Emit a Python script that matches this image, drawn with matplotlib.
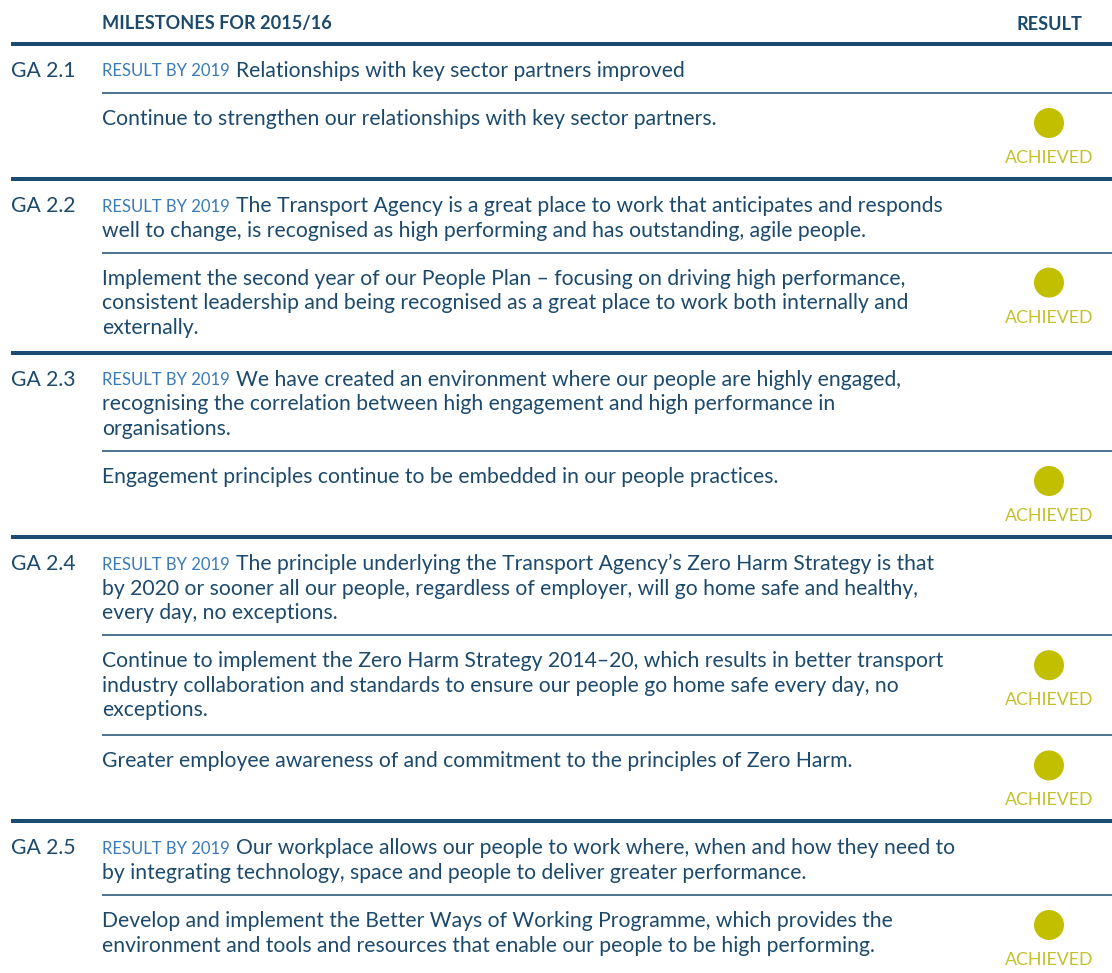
import matplotlib
matplotlib.use("Agg")
import matplotlib.pyplot as plt
from matplotlib.patches import Circle

# ---------------- data ----------------
header_left = "MILESTONES FOR 2015/16"
header_right = "RESULT"
result_prefix = "RESULT BY 2019"

goals = ["GA 2.1", "GA 2.2", "GA 2.3", "GA 2.4", "GA 2.5"]

results = [
    ["Relationships with key sector partners improved"],
    ["The Transport Agency is a great place to work that anticipates and responds",
     "well to change, is recognised as high performing and has outstanding, agile people."],
    ["We have created an environment where our people are highly engaged,",
     "recognising the correlation between high engagement and high performance in",
     "organisations."],
    ["The principle underlying the Transport Agency\u2019s Zero Harm Strategy is that",
     "by 2020 or sooner all our people, regardless of employer, will go home safe and healthy,",
     "every day, no exceptions."],
    ["Our workplace allows our people to work where, when and how they need to",
     "by integrating technology, space and people to deliver greater performance."],
]

milestones = [
    [["Continue to strengthen our relationships with key sector partners."]],
    [["Implement the second year of our People Plan \u2013 focusing on driving high performance,",
      "consistent leadership and being recognised as a great place to work both internally and",
      "externally."]],
    [["Engagement principles continue to be embedded in our people practices."]],
    [["Continue to implement the Zero Harm Strategy 2014\u201320, which results in better transport",
      "industry collaboration and standards to ensure our people go home safe every day, no",
      "exceptions."],
     ["Greater employee awareness of and commitment to the principles of Zero Harm."]],
    [["Develop and implement the Better Ways of Working Programme, which provides the",
      "environment and tools and resources that enable our people to be high performing."]],
]

statuses = [["ACHIEVED"], ["ACHIEVED"], ["ACHIEVED"], ["ACHIEVED", "ACHIEVED"], ["ACHIEVED"]]

# ---------------- style ----------------
NAVY = "#1c4a6c"
LINE = "#1b4b70"
BLUE = "#3a7bb8"
GREEN = "#c1bf00"
GREEN_TXT = "#c4c12c"
FONT = "Lato"
FS = 15.2
W, H = 1112, 973

fig = plt.figure(figsize=(W / 100, H / 100), dpi=100)
ax = fig.add_axes([0, 0, 1, 1])
ax.set_xlim(0, W)
ax.set_ylim(H, 0)
ax.axis("off")

X_GOAL = 11
X_TEXT = 102
X_RES = 1049
LS = 24.6

def thick(y):
    ax.plot([X_GOAL, W], [y, y], color=LINE, lw=2.9, solid_capstyle="butt")

def thin(y):
    ax.plot([X_TEXT, W], [y, y], color=LINE, lw=1.1, solid_capstyle="butt")

# header
ax.text(X_TEXT, 24, header_left, fontsize=13.1, fontweight="bold", family=FONT,
        color=NAVY, va="center", ha="left")
ax.text(1082, 24, header_right, fontsize=13.1, fontweight="bold", family=FONT,
        color=NAVY, va="center", ha="right")
y = 44
thick(y)

fig.canvas.draw()
renderer = fig.canvas.get_renderer()
inv = ax.transData.inverted()

for gi, goal in enumerate(goals):
    ty = y + 27
    ax.text(X_GOAL, ty, goal, fontsize=FS, family=FONT, color=NAVY, va="center", ha="left")
    pt = ax.text(X_TEXT, ty + 0.5, result_prefix, fontsize=12.0, family=FONT,
                 color=BLUE, va="center", ha="left")
    bb = pt.get_window_extent(renderer=renderer)
    x_end = inv.transform((bb.x1, bb.y0))[0]
    for li, line in enumerate(results[gi]):
        xx = x_end + 6 if li == 0 else X_TEXT
        ax.text(xx, ty + li * LS, line, fontsize=FS, family=FONT, color=NAVY,
                va="center", ha="left")
    last = ty + (len(results[gi]) - 1) * LS
    sep = last + 22
    for mi, mlines in enumerate(milestones[gi]):
        thin(sep)
        sy = sep + 26
        for li, line in enumerate(mlines):
            ax.text(X_TEXT, sy + li * LS, line, fontsize=FS, family=FONT, color=NAVY,
                    va="center", ha="left")
        cy = sep + 30
        ax.add_patch(Circle((X_RES, cy), 15, color=GREEN, lw=0))
        ay = cy + 35
        ax.text(X_RES, ay, statuses[gi][mi], fontsize=12.8, family=FONT,
                color=GREEN_TXT, va="center", ha="center")
        lastm = sy + (len(mlines) - 1) * LS
        sep = max(lastm + 25, ay + 21)
    y = sep
    if gi < len(goals) - 1:
        thick(y)

fig.savefig("out.png", dpi=100)
